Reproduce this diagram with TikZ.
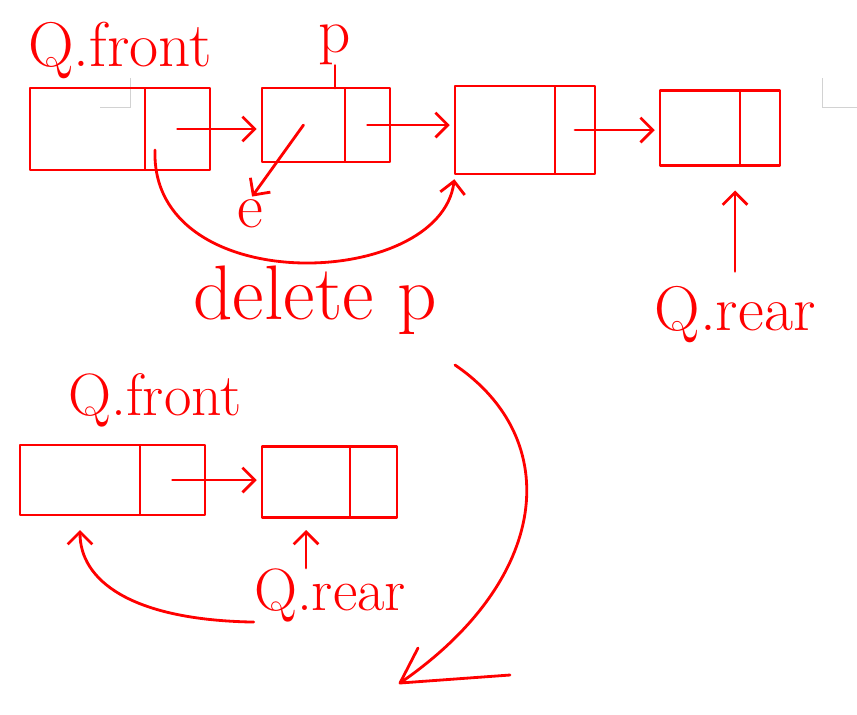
\documentclass[tikz,border=0pt]{standalone}
\usetikzlibrary{positioning,arrows.meta}
\definecolor{ink}{RGB}{255,0,0}
\tikzset{
  pen/.style={draw=ink, line width=1.6pt, line cap=round, line join=round},
  field/.style={pen, rectangle, inner sep=0pt, outer sep=0pt},
  ptr/.style={pen, -{Straight Barb[length=7pt,width=14pt]}},
  lbl/.style={text=ink, inner sep=0pt, font=\fontsize{36}{40}\selectfont},
}
\begin{document}
\begin{tikzpicture}[x=0.02cm,y=-0.02cm]
\useasboundingbox (0,0) rectangle (857,714);
\draw[gray!35, line width=0.5pt] (100,107) -- (130,107) -- (130,78);
\draw[gray!35, line width=0.5pt] (857,107) -- (822,107) -- (822,78);
\node[field, minimum width=2.3cm, minimum height=1.64cm] (n1d) at (87.5,129) {};
\node[field, minimum width=1.3cm, minimum height=1.64cm, right=0pt of n1d] (n1n) {};
\node[field, minimum width=1.66cm, minimum height=1.48cm] (n2d) at (303.5,125) {};
\node[field, minimum width=0.9cm, minimum height=1.48cm, right=0pt of n2d] (n2n) {};
\node[field, minimum width=2cm, minimum height=1.76cm] (n3d) at (505,130) {};
\node[field, minimum width=0.8cm, minimum height=1.76cm, right=0pt of n3d] (n3n) {};
\node[field, minimum width=1.6cm, minimum height=1.5cm] (n4d) at (700,128) {};
\node[field, minimum width=0.8cm, minimum height=1.5cm, right=0pt of n4d] (n4n) {};
\node[lbl] (qf1) at (120,50) {Q.front};
\node[lbl] (pl) at (335,45) {p};
\node[lbl] (e) at (250,214) {e};
\node[lbl, font=\fontsize{44}{48}\selectfont] (dp) at (315,300) {delete p};
\node[lbl] (qr1) at (735,315) {Q.rear};
\draw[pen] (pl.south) -- (pl.south |- n2d.north);
\draw[ptr, shorten >=3pt] (n1n.center) -- (n1n.center -| n2d.west);
\draw[ptr, shorten >=3pt] (n2n.center) -- (n2n.center -| n3d.west);
\draw[ptr, shorten >=3pt] (n3n.center) -- (n3n.center -| n4d.west);
\draw[ptr, shorten >=2pt] (n2d.center) -- (e.north);
\coordinate (c1) at (155,150);
\draw[ptr, shorten >=3pt] (c1) .. controls (150,300) and (440,290) .. (n3d.south west);
\draw[ptr, shorten <=0.3cm, shorten >=0.5cm] (qr1.north) -- (qr1.north |- n4d.south);
\node[field, minimum width=2.4cm, minimum height=1.4cm] (ad) at (80,480) {};
\node[field, minimum width=1.3cm, minimum height=1.4cm, right=0pt of ad] (an) {};
\node[field, minimum width=1.76cm, minimum height=1.42cm] (bd) at (306,482) {};
\node[field, minimum width=0.94cm, minimum height=1.42cm, right=0pt of bd] (bn) {};
\node[lbl, font=\fontsize{34}{38}\selectfont] (qf2) at (155,400) {Q.front};
\node[lbl, font=\fontsize{34}{38}\selectfont] (qr2) at (330,595) {Q.rear};
\draw[ptr, shorten >=3pt] (an.center) -- (an.center -| bd.west);
\draw[ptr, shorten >=0.3cm] (qr2.south west) .. controls (130,620) and (80,580) .. (ad.south);
\draw[ptr, shorten >=0.25cm] (qr2.north -| bd) -- (bd.south);
\coordinate (s) at (455,365);
\coordinate (t) at (400,683);
\draw[pen] (s) .. controls (565,440) and (550,580) .. (t) -- (510,675);
\draw[pen] (t) -- (418,648);
\end{tikzpicture}
\end{document}
